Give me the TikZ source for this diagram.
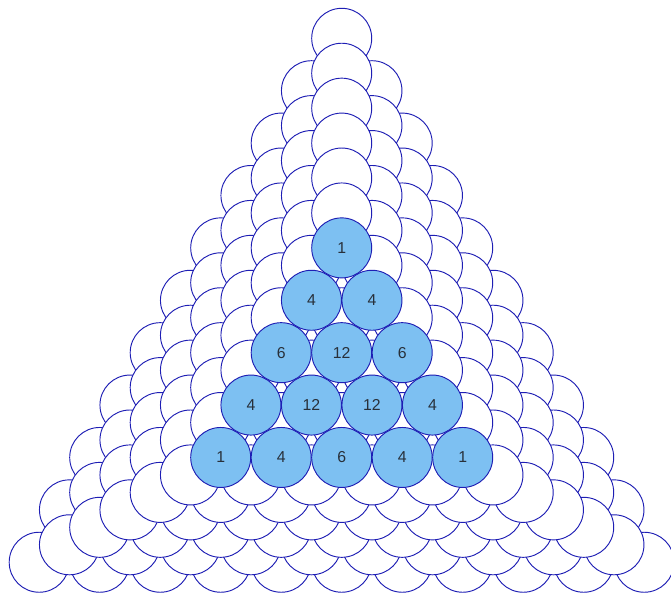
\documentclass[tikz,border=0pt]{standalone}
\usepackage{fontspec}
\setmainfont{Liberation Sans}
\definecolor{edgeblue}{RGB}{30,30,180}
\definecolor{ballblue}{RGB}{125,192,242}
\definecolor{numgrey}{RGB}{40,48,58}
\begin{document}
\begin{tikzpicture}[x=0.03cm,y=-0.03cm,
  ball/.style={circle, draw=edgeblue, line width=0.8pt, fill=white, minimum size=1.8cm, inner sep=0pt},
  litball/.style={ball, fill=ballblue, text=numgrey, font=\fontsize{13.5}{15}\selectfont}]
\fill[white] (0,0) rectangle (671,594);
\useasboundingbox (0,0) rectangle (671,594);
\pgfmathsetmacro{\p}{60.5}
\pgfmathsetmacro{\h}{\p*sqrt(3)/2}
\pgfmathsetmacro{\cx}{341.7}
\pgfmathsetmacro{\cy}{38.3+20/3*\h}
\foreach \k in {10,9,...,5}{
  \foreach \i in {0,...,\k}{
    \foreach \j in {0,...,\i}{
      \node[ball] (b-\k-\i-\j) at ({\cx+(\j-\i/2)*\p},{\cy-2/3*\k*\h+\i*\h}) {};
    }
  }
}
\foreach \i/\j/\v in {0/0/1, 1/0/4, 1/1/4, 2/0/6, 2/1/12, 2/2/6, 3/0/4, 3/1/12, 3/2/12, 3/3/4, 4/0/1, 4/1/4, 4/2/6, 4/3/4, 4/4/1}{
  \node[litball] (b-4-\i-\j) at ({\cx+(\j-\i/2)*\p},{\cy-8/3*\h+\i*\h}) {\v};
}
\end{tikzpicture}
\end{document}
